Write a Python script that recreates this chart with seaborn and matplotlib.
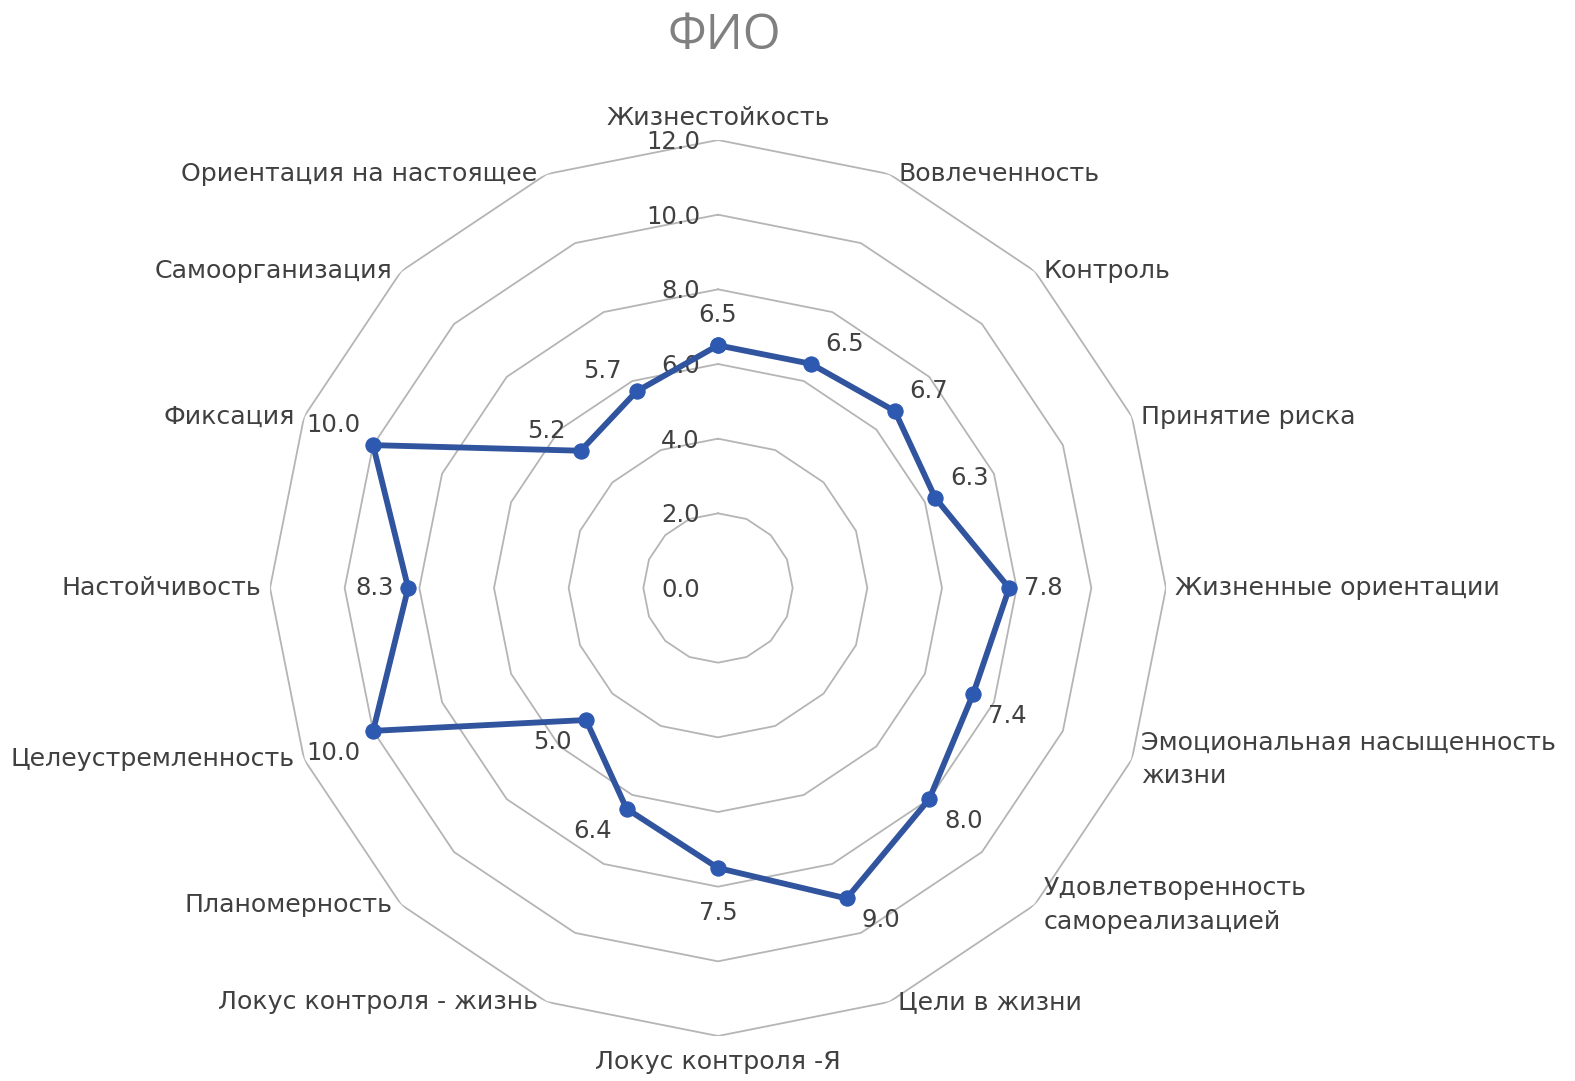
import numpy as np
import matplotlib
matplotlib.use("Agg")
import matplotlib.pyplot as plt
import seaborn as sns
import pandas as pd

categories = [
    "Жизнестойкость", "Вовлеченность", "Контроль", "Принятие риска",
    "Жизненные ориентации", "Эмоциональная насыщенность\nжизни",
    "Удовлетворенность\nсамореализацией", "Цели в жизни", "Локус контроля -Я",
    "Локус контроля - жизнь", "Планомерность", "Целеустремленность",
    "Настойчивость", "Фиксация", "Самоорганизация", "Ориентация на настоящее",
]
values = [6.5, 6.5, 6.7, 6.3, 7.8, 7.4, 8.0, 9.0, 7.5, 6.4, 5.0, 10.0, 8.3, 10.0, 5.2, 5.7]
ring_ticks = [0.0, 2.0, 4.0, 6.0, 8.0, 10.0, 12.0]
title = "ФИО"

sns.set_theme(style="white")
plt.rcParams['font.family'] = ['DejaVu Sans']

W, H, DPI = 1575, 1081, 100
fig = plt.figure(figsize=(W / DPI, H / DPI), dpi=DPI)
cx, cy, R = 718, 588, 448
ax = fig.add_axes([(cx - R) / W, (H - cy - R) / H, 2 * R / W, 2 * R / H], projection="polar")
ax.set_theta_zero_location("N")
ax.set_theta_direction(-1)
ax.set_ylim(0, 12)
ax.grid(False)
ax.spines["polar"].set_visible(False)
ax.set_xticks([])
ax.set_yticks([])
ax.set_facecolor("none")

n = len(categories)
angles = np.arange(n) * 2 * np.pi / n

# polygonal grid
poly_t = np.append(angles, angles[0] + 2 * np.pi)
for r in ring_ticks[1:]:
    ax.plot(poly_t, [r] * len(poly_t), color="#b5b5b5", lw=1.3, zorder=1)

# ring tick labels
txt_color = "#404040"
for r in ring_ticks:
    ax.annotate(f"{r:.1f}", xy=(0, r), xytext=(-18, -2), textcoords="offset pixels",
                ha="right", va="center", fontsize=17.5, color=txt_color, zorder=2)

# data
df = pd.DataFrame({"theta": np.append(angles, 2 * np.pi), "r": values + [values[0]]})
sns.lineplot(data=df, x="theta", y="r", ax=ax, sort=False, estimator=None,
             color="#31549E", lw=4.2, marker="o", markersize=11,
             markerfacecolor="#2E59B0", markeredgecolor="#2E59B0", zorder=5)
ax.set_xlabel("")
ax.set_ylabel("")

# data labels
for th, v in zip(angles, values):
    s, c = np.sin(th), np.cos(th)
    if abs(s) < 1e-6:
        dx, dy = 0, (30 if c > 0 else -45)
    else:
        dx = 34 if s > 0 else -34
        if abs(c) < 1e-6:
            dy = 0
        else:
            dy = 20 if c > 0 else -22
        if v >= 10:
            dx = dx * 1.18
    ax.annotate(f"{v:.1f}", xy=(th, v), xytext=(dx, dy), textcoords="offset pixels",
                ha="center", va="center", fontsize=17.5, color=txt_color, zorder=6)

# category labels
for th, lab in zip(angles, categories):
    s, c = np.sin(th), np.cos(th)
    if abs(s) < 1e-6:
        ha = "center"
        dx = 0
        if c > 0:
            va, dy = "bottom", 10
        else:
            va, dy = "top", -14
    else:
        ha = "left" if s > 0 else "right"
        dx = 9 if s > 0 else -9
        va, dy = "center", 0
    ax.annotate(lab, xy=(th, 12), xytext=(dx, dy), textcoords="offset pixels",
                ha=ha, va=va, fontsize=18.2, color=txt_color, linespacing=1.5,
                annotation_clip=False, zorder=6)

fig.text(724 / W, 1 - 36 / H, title, ha="center", va="center", fontsize=35,
         color="#808080", family=["Open Sans", "DejaVu Sans"])

fig.savefig("out.png", dpi=DPI)
